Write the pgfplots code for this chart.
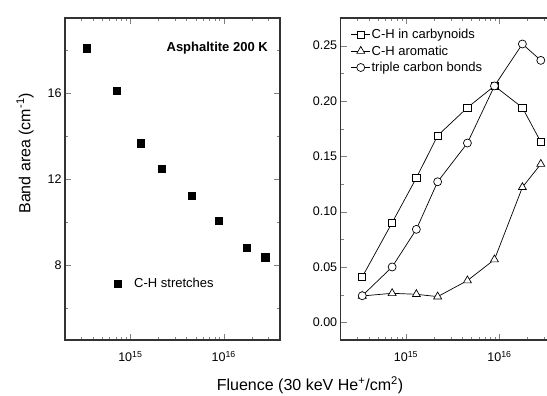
\documentclass[border=0pt]{standalone}
\usepackage{pgfplots}
\pgfplotsset{compat=1.18}
\usepackage{fontspec}
\setmainfont{Liberation Sans}
\begin{document}
\begin{tikzpicture}
\begin{axis}[xmode=log, scale only axis, width=215pt, height=322pt,
  xmin=2e14, xmax=4e16,
  tick align=inside,
  major tick length=6pt, minor tick length=3pt,
  axis line style={line width=1.1pt, black!80},
  xtick={1e15,1e16}, xticklabels={10\textsuperscript{15},10\textsuperscript{16}},
  minor xtick={3e14,4e14,5e14,6e14,7e14,8e14,9e14,2e15,3e15,4e15,5e15,6e15,7e15,8e15,9e15,2e16,3e16,4e16},
  tick label style={font=\fontsize{12.5}{14}\selectfont},
  xticklabel style={yshift=-7.5pt},
  /pgf/number format/assume math mode=true,
  at={(0pt,0pt)}, anchor=south west,
  ymin=4.5, ymax=19.5, ytick={8,12,16}, minor ytick={6,10,14,18},
  ylabel={Band area (cm\textsuperscript{-1})},
  ylabel style={font=\fontsize{16}{19}\selectfont, at={(axis description cs:-0.186,0.58)}, anchor=center},
  xlabel={Fluence (30 keV He\textsuperscript{+}/cm\textsuperscript{2})},
  xlabel style={font=\fontsize{16}{19}\selectfont, at={(axis description cs:1.1395,-0.1398)}, anchor=center},
  legend style={draw=none, fill=none, font=\fontsize{13}{15}\selectfont,
    at={(axis description cs:0.186,0.176)}, anchor=west},
  legend image code/.code={\path[draw=none, fill=none] (0pt,-1pt) rectangle (24pt,1pt); \draw[mark repeat=2,mark phase=2,#1] plot coordinates {(0pt,0pt) (9.5pt,0pt) (24pt,0pt)};},
]
\addplot[only marks, mark=square*, mark size=3.6pt, mark options={fill=black}] coordinates {
(3.4e14,18.09) (7.1e14,16.12) (1.29e15,13.67) (2.18e15,12.48) (4.54e15,11.21) (8.84e15,10.06) (1.76e16,8.80) (2.77e16,8.36)};
\addlegendentry{C-H stretches}
\node[anchor=east, font=\bfseries\fontsize{13}{15}\selectfont] at (rel axis cs:0.9595,0.907) {Asphaltite 200 K};
\end{axis}
\begin{axis}[xmode=log, scale only axis, width=215pt, height=322pt,
  xmin=2e14, xmax=4e16,
  tick align=inside,
  major tick length=6pt, minor tick length=3pt,
  axis line style={line width=1.1pt, black!80},
  xtick={1e15,1e16}, xticklabels={10\textsuperscript{15},10\textsuperscript{16}},
  minor xtick={3e14,4e14,5e14,6e14,7e14,8e14,9e14,2e15,3e15,4e15,5e15,6e15,7e15,8e15,9e15,2e16,3e16,4e16},
  tick label style={font=\fontsize{12.5}{14}\selectfont},
  xticklabel style={yshift=-7.5pt},
  /pgf/number format/assume math mode=true,
  at={(275.7pt,0pt)}, anchor=south west,
  ymin=-0.016, ymax=0.275, ytick={0,0.05,0.1,0.15,0.2,0.25},
  minor ytick={0.025,0.075,0.125,0.175,0.225},
  yticklabel style={/pgf/number format/.cd, fixed, fixed zerofill, precision=2},
  legend style={draw=none, fill=none, font=\fontsize{13}{15}\selectfont,
    at={(axis description cs:0,1)}, anchor=north west, row sep=3.5pt,
    xshift=7pt, yshift=-8pt,
    nodes={inner sep=1pt}},
  legend cell align=left,
  legend image code/.code={\draw[mark repeat=2,mark phase=2,#1] plot coordinates {(0pt,0pt) (9.5pt,0pt) (19pt,0pt)};},
]
\addplot[black, line width=0.7pt, mark=square*, mark size=3.6pt, mark options={fill=white, solid}] coordinates {
(3.4e14,0.041) (7.1e14,0.090) (1.29e15,0.1305) (2.18e15,0.1687) (4.54e15,0.194) (8.84e15,0.2136) (1.76e16,0.194) (2.77e16,0.163)};
\addlegendentry{C-H in carbynoids}
\addplot[black, line width=0.7pt, mark=triangle*, mark size=4.6pt, mark options={fill=white, solid}] coordinates {
(3.4e14,0.0238) (7.1e14,0.0262) (1.29e15,0.0253) (2.18e15,0.0232) (4.54e15,0.0377) (8.84e15,0.0567) (1.76e16,0.122) (2.77e16,0.143)};
\addlegendentry{C-H aromatic}
\addplot[black, line width=0.7pt, mark=*, mark size=4pt, mark options={fill=white, solid}] coordinates {
(3.4e14,0.024) (7.1e14,0.050) (1.29e15,0.084) (2.18e15,0.127) (4.54e15,0.162) (8.84e15,0.2136) (1.76e16,0.2515) (2.77e16,0.2367)};
\addlegendentry{triple carbon bonds}
\end{axis}
\pgfresetboundingbox
\useasboundingbox (-65pt,-56pt) rectangle (482pt,340pt);
\end{tikzpicture}
\end{document}
